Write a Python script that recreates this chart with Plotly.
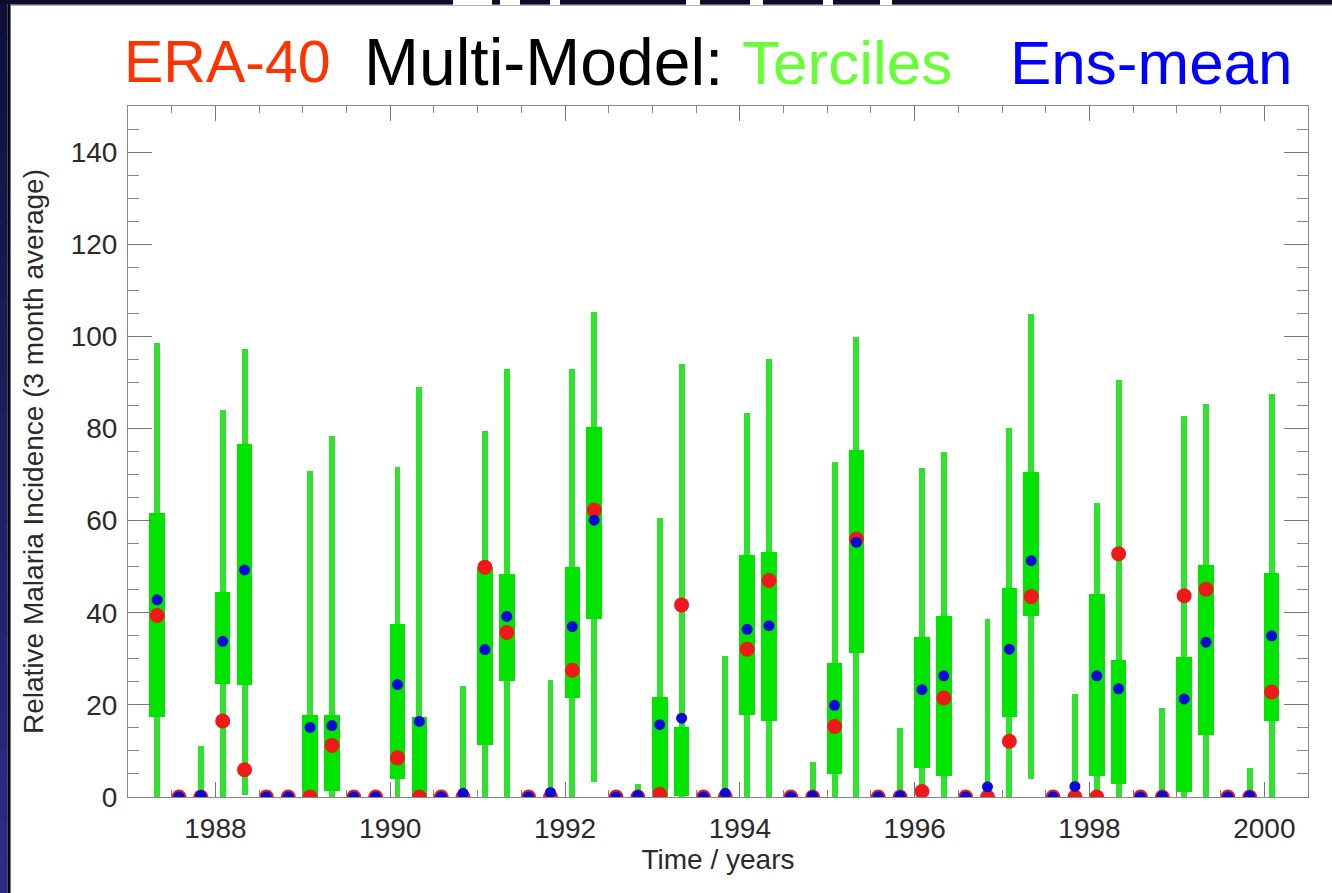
import plotly.graph_objects as go

# ---------------- data ----------------
# quarterly time axis: May 1987 ... Feb 2000 (3-month steps)
time = [1987 + m / 12 for m in range(4, 4 + 3 * 52, 3)]

whisk_lo = [0, None, 0, 0, 0.5, None, None, 0, 0, None, None, 0, 0, None, 0, 0, 0, None, 0, 0,
            3.2, None, 0, 0, 0, None, 0, 0, 0, None, 0, 0, 0, None, 0, 0, 0, None, 0, 0,
            4.0, None, 0, 0, 0, None, 0, 0, 0, None, 0, 0]
whisk_hi = [98.5, None, 11.0, 84.0, 97.3, None, None, 70.7, 78.4, None, None, 71.7, 88.9, None, 24.2, 79.5, 92.9, None, 25.4, 92.9,
            105.3, None, 2.9, 60.5, 94.0, None, 30.7, 83.4, 95.0, None, 7.6, 72.7, 99.8, None, 15.0, 71.4, 75.0, None, 38.6, 80.2,
            104.8, None, 22.3, 63.9, 90.5, None, 19.4, 82.6, 85.3, None, 6.3, 87.5]
box_lo = [17.4, None, None, 24.6, 24.3, None, None, 0.0, 1.2, None, None, 4.0, 0.0, None, None, 11.3, 25.1, None, None, 21.5,
          38.6, None, None, 0.0, 0.3, None, None, 17.7, 16.4, None, None, 5.0, 31.2, None, None, 6.3, 4.6, None, None, 17.3,
          39.3, None, None, 4.6, 2.9, None, None, 1.0, 13.5, None, None, 16.6]
box_hi = [61.6, None, None, 44.5, 76.7, None, None, 17.9, 17.9, None, None, 37.6, 17.3, None, None, 50.0, 48.4, None, None, 50.0,
          80.4, None, None, 21.7, 15.2, None, None, 52.6, 53.1, None, None, 29.1, 75.3, None, None, 34.8, 39.2, None, None, 45.3,
          70.6, None, None, 44.0, 29.8, None, None, 30.4, 50.4, None, None, 48.7]
era40 = [39.4, 0, 0, 16.5, 5.9, 0, 0, 0, 11.2, 0, 0, 8.5, 0, 0, 0, 49.9, 35.7, 0, 0, 27.5,
         62.3, 0, 0, 0.6, 41.7, 0, 0, 32.1, 47.0, 0, 0, 15.3, 56.0, 0, 0, 1.2, 21.5, 0, 0, 12.1,
         43.5, 0, 0, 0, 52.8, 0, 0, 43.7, 45.1, 0, 0, 22.8]
ens_mean = [42.8, 0, 0.3, 33.8, 49.3, 0, 0, 15.1, 15.5, 0, 0, 24.4, 16.4, 0, 0.8, 32.0, 39.2, 0, 1.0, 37.0,
            60.1, 0, 0.3, 15.7, 17.1, 0, 0.8, 36.4, 37.2, 0, 0.2, 19.9, 55.3, 0, 0.2, 23.3, 26.3, 0, 2.2, 32.1,
            51.3, 0, 2.3, 26.3, 23.5, 0, 0.2, 21.3, 33.6, 0, 0.2, 35.0]

x_ticks = [1988, 1990, 1992, 1994, 1996, 1998, 2000]
y_ticks = [0, 20, 40, 60, 80, 100, 120, 140]

# ---------------- figure geometry ----------------
W, H = 1332, 893
L, R, T, B = 128, 24, 106, 96
PW, PH = W - L - R, H - T - B


def px(x):
    return (x - L) / PW


def py(y):
    return (H - B - y) / PH


def seg(lo, hi):
    return [None if (a is None or b is None) else b - a for a, b in zip(lo, hi)]


fig = go.Figure()

fig.add_trace(go.Bar(x=time, y=seg(whisk_lo, whisk_hi), base=whisk_lo, width=0.068,
                     marker=dict(color="#2ee22e", line=dict(width=0)), showlegend=False))
fig.add_trace(go.Bar(x=time, y=seg(box_lo, box_hi), base=box_lo, width=0.178,
                     marker=dict(color="#00e400", line=dict(width=0)), showlegend=False))
fig.add_trace(go.Scatter(x=time, y=era40, mode="markers",
                         marker=dict(color="#f01818", size=15, line=dict(width=0)),
                         showlegend=False, cliponaxis=True))
fig.add_trace(go.Scatter(x=time, y=ens_mean, mode="markers",
                         marker=dict(color="#0a0ad8", size=11, line=dict(width=0)),
                         showlegend=False, cliponaxis=True))

tickfont = dict(family="Liberation Sans, Arial, sans-serif", size=28, color="#2a2a2a")

fig.update_layout(
    width=W, height=H,
    margin=dict(l=L, r=R, t=T, b=B, autoexpand=False),
    paper_bgcolor="white", plot_bgcolor="white",
    barmode="overlay", bargap=0,
    xaxis=dict(range=[1987, 2000.5], tickvals=x_ticks, ticktext=[str(v) for v in x_ticks],
               ticks="inside", ticklen=15, tickwidth=1, tickcolor="#777",
               minor=dict(dtick=0.5, tick0=1987, ticks="inside", ticklen=7, tickcolor="#888"),
               showline=True, linecolor="#888", linewidth=1, mirror="ticks",
               showgrid=False, zeroline=False, tickfont=tickfont, ticklabelstandoff=6,
               title=dict(text="Time / years", font=tickfont, standoff=4)),
    yaxis=dict(range=[0, 150], tickvals=y_ticks, ticktext=[str(v) for v in y_ticks],
               ticks="inside", ticklen=24, tickwidth=1, tickcolor="#777",
               minor=dict(dtick=5, ticks="inside", ticklen=11, tickcolor="#888"),
               showline=True, linecolor="#888", linewidth=1, mirror="ticks",
               showgrid=False, zeroline=False, tickfont=tickfont, ticklabelstandoff=4,
               title=dict(text="Relative Malaria Incidence (3 month average)", font=tickfont, standoff=18)),
)

# ---------------- slide frame decoration ----------------
shapes = []
# left navy strip with a vertical gradient
n = 24
c0, c1 = (16, 16, 58), (44, 44, 135)
for k in range(n):
    t = k / (n - 1)
    col = "rgb(%d,%d,%d)" % tuple(round(a + (b - a) * t) for a, b in zip(c0, c1))
    y0 = H * k / n
    y1 = H * (k + 1) / n + 1
    shapes.append(dict(type="rect", xref="paper", yref="paper", x0=px(0), x1=px(7.5),
                       y0=py(y1), y1=py(y0), fillcolor=col, line=dict(width=0), layer="above"))
# black line beside strip
shapes.append(dict(type="rect", xref="paper", yref="paper", x0=px(7.5), x1=px(10), y0=py(H), y1=py(0),
                   fillcolor="#050510", line=dict(width=0), layer="above"))
shapes.append(dict(type="rect", xref="paper", yref="paper", x0=px(10), x1=px(11), y0=py(H), y1=py(4),
                   fillcolor="#777", line=dict(width=0), layer="above"))
# top strip
shapes.append(dict(type="rect", xref="paper", yref="paper", x0=px(0), x1=px(W), y0=py(4), y1=py(0),
                   fillcolor="#0c0c2c", line=dict(width=0), layer="above"))
shapes.append(dict(type="rect", xref="paper", yref="paper", x0=px(10), x1=px(W), y0=py(5.5), y1=py(4),
                   fillcolor="#666", line=dict(width=0), layer="above"))
# white bits of the cut-off heading above
for a, b in [(453, 492), (500, 520), (550, 560), (686, 700), (750, 763), (823, 833), (880, 892)]:
    shapes.append(dict(type="rect", xref="paper", yref="paper", x0=px(a), x1=px(b), y0=py(5), y1=py(0),
                       fillcolor="white", line=dict(width=0), layer="above"))
fig.update_layout(shapes=shapes)

# ---------------- coloured heading ----------------
title_font = "Liberation Sans, Arial, sans-serif"
for text, x0, col, sz in [("ERA-40", 122, "#ff3300", 59), ("Multi-Model:", 362, "#000000", 66),
                          ("Terciles", 740, "#66ff33", 62), ("Ens-mean", 1008, "#0000ff", 62)]:
    fig.add_annotation(x=px(x0), y=py(62), xref="paper", yref="paper", text=text, showarrow=False,
                       xanchor="left", yanchor="middle",
                       font=dict(family=title_font, size=sz, color=col))

fig.write_html("out.html", config={"displayModeBar": False},
               post_script="document.body.style.margin='0';document.body.style.padding='0';")
